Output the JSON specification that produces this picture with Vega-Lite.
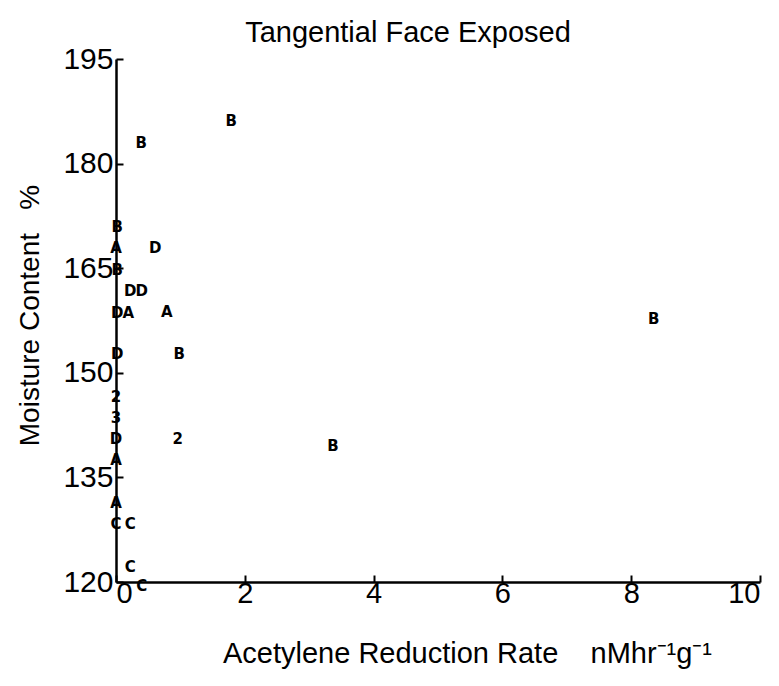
{
  "$schema": "https://vega.github.io/schema/vega-lite/v6.json",
  "width": 644,
  "height": 523,
  "autosize": {"type": "none"},
  "padding": {"left": 116, "top": 59, "right": 19, "bottom": 104},
  "background": "white",
  "title": {
    "text": "Tangential Face Exposed",
    "font": "Liberation Sans",
    "fontSize": 29,
    "fontWeight": "normal",
    "color": "black",
    "anchor": "middle",
    "dx": -30,
    "offset": -4
  },
  "config": {
    "view": {"stroke": null},
    "axis": {
      "grid": false,
      "domainColor": "black",
      "domainWidth": 2.5,
      "tickColor": "black",
      "tickWidth": 2,
      "labelColor": "black",
      "titleColor": "black",
      "labelFont": "Liberation Sans",
      "titleFont": "Liberation Sans",
      "titleFontWeight": "normal"
    }
  },
  "data": {
    "values": [
      {"rate": 0.39, "moisture": 182.9, "label": "B"},
      {"rate": 1.79, "moisture": 186.1, "label": "B"},
      {"rate": 0.02, "moisture": 170.9, "label": "B"},
      {"rate": 0.0, "moisture": 167.9, "label": "A"},
      {"rate": 0.61, "moisture": 167.9, "label": "D"},
      {"rate": 0.02, "moisture": 164.7, "label": "B"},
      {"rate": 0.22, "moisture": 161.7, "label": "D"},
      {"rate": 0.4, "moisture": 161.7, "label": "D"},
      {"rate": 0.02, "moisture": 158.6, "label": "D"},
      {"rate": 0.19, "moisture": 158.6, "label": "A"},
      {"rate": 0.79, "moisture": 158.7, "label": "A"},
      {"rate": 0.02, "moisture": 152.7, "label": "D"},
      {"rate": 0.98, "moisture": 152.7, "label": "B"},
      {"rate": 0.0, "moisture": 146.5, "label": "2"},
      {"rate": 0.0, "moisture": 143.5, "label": "3"},
      {"rate": 0.0, "moisture": 140.5, "label": "D"},
      {"rate": 0.96, "moisture": 140.5, "label": "2"},
      {"rate": 3.37, "moisture": 139.5, "label": "B"},
      {"rate": 8.35, "moisture": 157.7, "label": "B"},
      {"rate": 0.0, "moisture": 137.5, "label": "A"},
      {"rate": 0.0, "moisture": 131.3, "label": "A"},
      {"rate": 0.0, "moisture": 128.3, "label": "C"},
      {"rate": 0.22, "moisture": 128.3, "label": "C"},
      {"rate": 0.22, "moisture": 122.1, "label": "C"},
      {"rate": 0.4, "moisture": 119.4, "label": "C"}
    ]
  },
  "mark": {
    "type": "text",
    "font": "DejaVu Sans",
    "fontWeight": "bold",
    "fontSize": 15,
    "color": "black",
    "clip": false
  },
  "encoding": {
    "x": {
      "field": "rate",
      "type": "quantitative",
      "scale": {"domain": [0, 10], "nice": false, "zero": false},
      "axis": {
        "values": [0, 2, 4, 6, 8, 10],
        "tickSize": -7,
        "labelPadding": 4,
        "labelFontSize": 29,
        "labelBaseline": "top",
        "title": "Acetylene Reduction Rate\u00a0\u00a0\u00a0\u00a0nMhr⁻¹g⁻¹",
        "titleFontSize": 29,
        "titleX": 351,
        "titleY": 57,
        "titleAlign": "center",
        "titleBaseline": "top"
      }
    },
    "y": {
      "field": "moisture",
      "type": "quantitative",
      "scale": {"domain": [120, 195], "nice": false, "zero": false},
      "axis": {
        "values": [120, 135, 150, 165, 180, 195],
        "tickSize": -7,
        "labelPadding": 10,
        "labelFontSize": 30,
        "title": "Moisture Content\u00a0\u00a0\u00a0%",
        "titleFontSize": 28,
        "titleAngle": -90,
        "titleX": -86,
        "titleY": 256,
        "titleAlign": "center",
        "titleBaseline": "middle"
      }
    },
    "text": {"field": "label", "type": "nominal"}
  }
}
